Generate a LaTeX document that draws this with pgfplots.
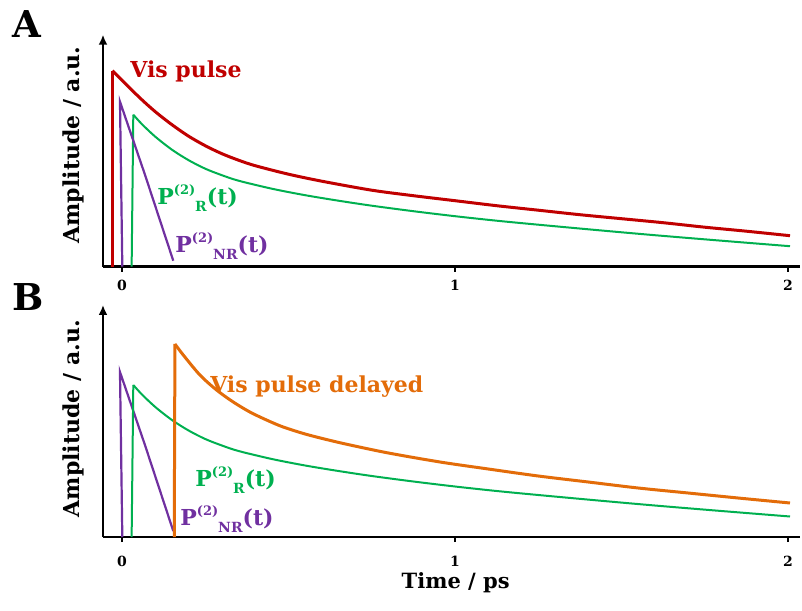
\documentclass[border=0pt]{standalone}
\usepackage{pgfplots}
\pgfplotsset{compat=1.18}
\usepackage{fontspec}
\setmainfont{DejaVu Serif}
\usetikzlibrary{arrows.meta}

\definecolor{visred}{HTML}{C00000}
\definecolor{pgreen}{HTML}{00B050}
\definecolor{ppurple}{HTML}{7030A0}
\definecolor{visorange}{HTML}{E36C09}

% amplitude (a.u.), time in ps; decay parts only
\pgfplotstableread{
t A
-0.029 196
0.050 170
0.100 155
0.150 142
0.200 130.5
0.250 121
0.300 113
0.350 106.5
0.400 101
0.500 92.5
0.600 85.5
0.750 76.5
0.875 71
1.000 66
1.125 61
1.250 56.5
1.375 52
1.500 48
1.625 44
1.750 39.5
1.875 35.5
2.006 31
}\redtable

\pgfplotstableread{
t A
0.034 152
0.060 142.5
0.100 130
0.150 117
0.200 106.5
0.250 98
0.300 91.5
0.350 86
0.450 78
0.550 71.5
0.650 66
0.750 61
0.875 55.5
1.000 50.5
1.125 46
1.250 42
1.430 36.5
1.600 31.5
1.800 26
2.006 20.5
}\greentable

\pgfplotstableread{
t A
0.001 0
-0.006 165
0.069 92
0.154 6
}\purpletable

\pgfplotstableread{
t A
0.159 193
0.184 182
0.234 162
0.284 147
0.334 135
0.384 125
0.434 117
0.484 110
0.550 103
0.620 97
0.685 92
0.800 84
0.955 75
1.100 68
1.250 61
1.400 55
1.550 49
1.700 44
1.850 39
2.006 34
}\orangetable

\newcommand{\plab}[1]{P\raisebox{5pt}{\fontsize{6.5}{7}\selectfont(2)}\raisebox{-3.5pt}{\fontsize{7}{8}\selectfont #1}(t)}

\pgfplotsset{decay axis/.style={
  scale only axis, width=348.5pt, height=116pt,
  xmin=-0.057, xmax=2.036, ymin=0, ymax=232,
  axis x line=bottom, axis y line=left,
  x axis line style={-, line width=1.25pt},
  y axis line style={-{Latex[length=5pt,width=4.5pt]}, line width=1.25pt},
  xtick={0,1,2}, xticklabels={0,1,2}, ytick=\empty,
  tick align=outside, major tick length=2.5pt,
  xtick style={line width=1pt, black},
  xticklabel style={font=\bfseries\fontsize{7}{8}\selectfont, inner sep=0pt},
  ylabel={Amplitude / a.u.},
  ylabel style={font=\bfseries\fontsize{11}{12}\selectfont, anchor=base, inner sep=0pt, yshift=11.5pt},
  clip=false,
}}

\begin{document}
\begin{tikzpicture}
\useasboundingbox (-51.5pt,133.35pt) rectangle (349.5pt,-171.65pt);

\begin{axis}[decay axis, at={(0,0)}, anchor=south west,
  xticklabel style={yshift=-4pt},
  ylabel style={at={(axis description cs:0,0.525)}}]
  \addplot[visred, line width=1.5pt] coordinates {(-0.029,0) (-0.029,196)};
  \addplot[visred, line width=1.5pt, smooth] table {\redtable};
  \addplot[pgreen, line width=1pt] coordinates {(0.029,0) (0.034,152)};
  \addplot[pgreen, line width=1pt, smooth] table {\greentable};
  \addplot[ppurple, line width=1.1pt] table {\purpletable};
  \node[anchor=base west, inner sep=0pt, text=visred, font=\bfseries\fontsize{11}{12}\selectfont] at (axis cs:0.024,188.7) {Vis pulse};
  \node[anchor=base west, inner sep=0pt, text=pgreen, font=\bfseries\fontsize{11}{12}\selectfont] at (axis cs:0.105,61.7) {\plab{R}};
  \node[anchor=base west, inner sep=0pt, text=ppurple, font=\bfseries\fontsize{11}{12}\selectfont] at (axis cs:0.159,13.7) {\plab{NR}};
  \node[anchor=base west, inner sep=0pt, font=\bfseries\fontsize{18.5}{20}\selectfont] at (rel axis cs:-0.1306,0.990) {A};
\end{axis}

\begin{axis}[decay axis, at={(0,-135.15pt)}, anchor=south west,
  xticklabel style={yshift=-7pt},
  ylabel style={at={(axis description cs:0,0.51)}},
  xlabel={Time / ps},
  xlabel style={font=\bfseries\fontsize{10.5}{12}\selectfont, at={(axis description cs:0.506,0)}, anchor=base, inner sep=0pt, yshift=-25.5pt}]
  \addplot[ppurple, line width=1.1pt] table {\purpletable};
  \addplot[pgreen, line width=1pt] coordinates {(0.029,0) (0.034,152)};
  \addplot[pgreen, line width=1pt, smooth] table {\greentable};
  \addplot[visorange, line width=1.5pt] coordinates {(0.157,0) (0.159,193)};
  \addplot[visorange, line width=1.5pt, smooth] table {\orangetable};
  \node[anchor=base west, inner sep=0pt, text=visorange, font=\bfseries\fontsize{11}{12}\selectfont] at (axis cs:0.264,144) {Vis pulse delayed};
  \node[anchor=base west, inner sep=0pt, text=pgreen, font=\bfseries\fontsize{11}{12}\selectfont] at (axis cs:0.219,51) {\plab{R}};
  \node[anchor=base west, inner sep=0pt, text=ppurple, font=\bfseries\fontsize{11}{12}\selectfont] at (axis cs:0.174,12) {\plab{NR}};
  \node[anchor=base west, inner sep=0pt, font=\bfseries\fontsize{18.5}{20}\selectfont] at (rel axis cs:-0.1306,0.978) {B};
\end{axis}
\end{tikzpicture}
\end{document}
